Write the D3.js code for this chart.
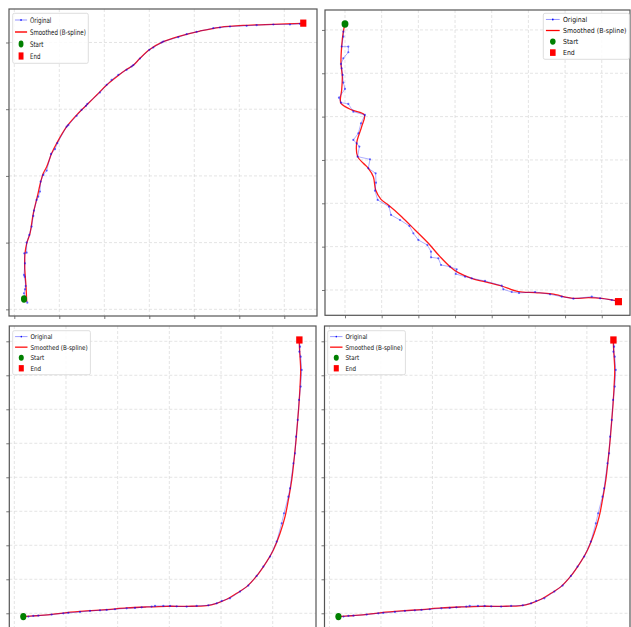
<!DOCTYPE html>
<html lang="en">
<head>
<meta charset="UTF-8">
<title>Trajectory smoothing</title>
<script src="https://cdn.jsdelivr.net/npm/d3@7"></script>
<style>
  body { margin: 0; background: #fff; }
  .grid line { stroke: #d2d2d2; stroke-width: 0.6; stroke-dasharray: 3,2; }
  .frame { fill: none; stroke: #555; stroke-width: 1.2; }
  .tick line { stroke: #555; stroke-width: 0.8; }
  .legend text { font-family: "DejaVu Sans", sans-serif; font-size: 7.6px; fill: #111; }
</style>
</head>
<body>
<svg id="chart" width="631" height="627"></svg>
<script>
// ---- track 1 (top left) ----
const track1Original = [
  [2.89,1.0],[2.37,1.9],[2.15,2.4],[2.37,3.0],[2.52,3.5],[2.3,4.9],[2.15,5.15],[2.37,6.9],
  [2.22,8.4],[2.74,8.5],[2.74,10.0],[3.33,11.15],[3.85,12.4],[4.22,14.0],[4.37,14.8],[4.96,16.4],
  [5.33,16.9],[5.7,17.65],[5.85,19.15],[6.44,20.15],[7.19,20.8],[8.15,23.3],[9.04,24.0],[9.56,24.9],
  [11.63,27.4],[12.0,27.6],[13.85,29.0],[14.96,29.9],[15.93,30.5],[16.22,30.8],[19.04,32.5],[20.52,33.65],
  [21.63,34.4],[23.11,35.15],[24.96,35.9],[26.07,36.4],[26.44,36.6],[27.93,37.6],[30.0,38.9],[30.89,39.25],
  [32.74,40.0],[33.11,40.15],[36.44,40.8],[38.3,41.25],[40.52,41.6],[44.22,42.15],[45.7,42.25],[47.93,42.4],
  [51.63,42.5],[53.85,42.6],[57.56,42.7],[61.26,42.7],[63.48,42.8],[64.22,42.9]
];
const track1Smoothed = [
  [2.76,1.14],[2.6,3.39],[2.31,6.39],[2.38,8.4],[2.76,9.9],[3.49,11.39],[4.22,14.39],[5.11,16.88],
  [5.87,19.13],[6.44,20.39],[7.2,21.38],[8.31,23.39],[9.42,24.89],[11.64,27.38],[14.22,29.39],[16.09,30.63],
  [18.31,32.13],[20.53,33.63],[22.76,34.87],[24.98,35.98],[26.44,36.58],[27.93,37.63],[30.16,38.98],[33.11,40.12],
  [36.82,40.97],[41.27,41.72],[45.71,42.28],[51.64,42.58],[57.56,42.73],[64.22,42.88]
];

// ---- track 2 (top right) ----
const track2Original = [
  [-0.45,59.62],[-0.45,58.46],[-0.91,56.15],[0.91,56.15],[0.91,54.85],[-0.45,53.46],[-1.09,52.15],[-0.91,51.15],
  [-0.64,49.62],[-0.45,47.85],[0,46.38],[-1.64,44.38],[-1.09,43.23],[0.91,42.92],[2.27,41.15],[5.45,40.38],
  [4.36,38.46],[3.64,36.15],[2.27,34.62],[3.18,33.85],[3.91,33.08],[3.45,30.77],[6.82,30.15],[6.36,28.08],
  [8.36,26.92],[8.45,24.77],[8.18,22.92],[8.91,20.77],[12.0,19.23],[12.55,17.31],[15.0,16.15],[17.55,14.77],
  [18.64,13.08],[20.0,11.54],[22.45,10.38],[23.45,8.85],[23.45,7.54],[25.45,7.31],[26.18,5.77],[28.64,5.38],
  [30.45,4.77],[30.18,3.69],[32.73,3.08],[34.55,2.69],[38.18,2.08],[42.73,1.0],[43.18,0.15],[45.45,-0.46],
  [47.45,-0.69],[51.82,-0.46],[55.91,-1.0],[59.09,-1.54],[62.27,-2.0],[67.27,-1.54],[69.55,-1.92],[72.73,-2.31],
  [74.55,-2.69]
];
const track2Smoothed = [
  [0,61.38],[-0.45,59.6],[-0.91,56.15],[-1.09,52.31],[-0.73,49.23],[-0.91,46.15],[-1.27,43.85],[-1.09,43.08],
  [1.82,41.54],[5.27,40.38],[4.55,37.69],[3.18,33.85],[3.45,30.77],[5.0,29.23],[6.36,28.08],[7.73,26.15],
  [8.36,23.08],[9.82,20.92],[11.82,19.62],[15.45,16.92],[19.09,13.85],[22.73,10.77],[25.91,7.69],[28.64,5.38],
  [30.91,4.0],[34.55,2.69],[39.09,1.69],[42.73,0.92],[47.27,-0.38],[51.82,-0.62],[56.36,-0.92],[62.27,-1.92],
  [66.36,-1.77],[70.0,-1.92],[74.55,-2.54]
];

// ---- track 3 (bottom row, both panels) ----
const track3Original = [
  [2.71,-0.98],[3.68,-0.78],[4.65,-0.69],[7.23,-0.39],[9.48,0.0],[10.45,0.1],[12.71,0.39],[14.65,0.69],
  [16.58,0.88],[17.87,0.98],[19.48,1.18],[21.74,1.47],[23.35,1.57],[24.65,1.76],[26.58,1.96],[27.23,2.16],
  [28.84,2.16],[30.13,2.16],[31.42,2.06],[33.35,1.96],[35.29,2.16],[37.55,2.35],[39.16,2.94],[40.13,3.63],
  [41.74,4.41],[43.68,6.37],[45.29,8.14],[46.9,10.98],[48.19,13.73],[49.48,16.67],[50.77,21.08],[51.74,26.47],
  [52.19,29.41],[53.03,34.31],[53.35,36.76],[54.0,44.12],[54.32,47.06],[54.52,51.96],[54.84,56.86],[55.1,62.75],
  [55.42,66.67],[55.61,71.57],[55.42,75.49],[55.16,76.96],[55.29,78.43],[55.16,80.2]
];
const track3Smoothed = [
  [1.74,-0.98],[3.68,-0.78],[6.9,-0.39],[10.13,0.2],[14.0,0.69],[17.87,1.08],[21.74,1.57],[25.61,1.86],
  [29.48,2.06],[33.35,2.06],[37.23,2.25],[39.16,2.94],[41.1,4.12],[43.03,5.88],[44.97,7.84],[46.9,10.98],
  [48.84,15.2],[50.13,18.63],[51.42,23.53],[52.39,28.43],[53.03,33.33],[53.68,39.22],[54.13,45.1],[54.52,50.98],
  [54.84,56.86],[55.1,61.76],[55.29,66.67],[55.42,71.57],[55.29,75.49],[55.16,78.92],[55.16,80.39]
];

const startPoints = [[2.15,1.55],[0,61.38],[1.74,-0.98]];
const endPoints = [[64.22,42.9],[74.55,-2.69],[55.16,80.39]];

const xTicks1 = [0,10,20,30,40,50,60], yTicks1 = [0,10,20,30,40];
const xTicks2 = [0,10,20,30,40,50,60,70], yTicks2 = [0,10,20,30,40,50,60];
const xTicks3 = [0,10,20,30,40,50], yTicks3 = [0,10,20,30,40,50,60,70,80];

const legendLabels = ['Original', 'Smoothed (B-spline)', 'Start', 'End'];

const tracks = [
  {orig: track1Original, smooth: track1Smoothed},
  {orig: track2Original, smooth: track2Smoothed},
  {orig: track3Original, smooth: track3Smoothed}
];

// layout for each panel (pixel box, data extent, legend box)
const panels = [
  {t: 0, box: [9, 9, 317, 316], xDom: [-1.18, 67.27], yDom: [-1.0, 45.02], xt: xTicks1, yt: yTicks1,
   sx: 0.72, leg: {x: 12.7, y: 13.3, sy: 1.0}},
  {t: 1, box: [325, 10, 630, 315.3], xDom: [-5.45, 77.7], yDom: [-5.84, 64.6], xt: xTicks2, yt: yTicks2,
   sx: 0.82, leg: {x: 543.3, y: 13.3, sy: 0.92}},
  {t: 2, box: [9.3, 326, 316, 633], xDom: [-0.97, 58.38], yDom: [-5.8, 84.5], xt: xTicks3, yt: yTicks3,
   sx: 0.74, leg: {x: 12.7, y: 330.7, sy: 0.88}},
  {t: 2, box: [324.5, 326, 630, 633], xDom: [-0.97, 58.38], yDom: [-5.8, 84.5], xt: xTicks3, yt: yTicks3,
   sx: 0.74, leg: {x: 327.7, y: 330.7, sy: 0.88}}
];

const svg = d3.select('#chart');

panels.forEach(p => {
  const [x0, y0, x1, y1] = p.box;
  const x = d3.scaleLinear().domain(p.xDom).range([x0, x1]);
  const y = d3.scaleLinear().domain(p.yDom).range([y1, y0]);
  const tr = tracks[p.t];

  const g = svg.append('g');

  // grid
  const grid = g.append('g').attr('class', 'grid');
  grid.selectAll('.gx').data(p.xt).enter().append('line')
    .attr('x1', d => x(d)).attr('x2', d => x(d)).attr('y1', y0).attr('y2', y1);
  grid.selectAll('.gy').data(p.yt).enter().append('line')
    .attr('y1', d => y(d)).attr('y2', d => y(d)).attr('x1', x0).attr('x2', x1);

  // ticks only, no labels
  g.append('g').attr('transform', `translate(${x0},0)`)
    .call(d3.axisLeft(y).tickValues(p.yt).tickSize(3).tickFormat(''))
    .call(a => a.select('.domain').remove());
  g.append('g').attr('transform', `translate(0,${y1})`)
    .call(d3.axisBottom(x).tickValues(p.xt).tickSize(3).tickFormat(''))
    .call(a => a.select('.domain').remove());

  const line = d3.line().x(d => x(d[0])).y(d => y(d[1]));

  // smoothed track
  g.append('path').datum(tr.smooth)
    .attr('d', line.curve(d3.curveCatmullRom.alpha(0.5)))
    .attr('fill', 'none').attr('stroke', 'red').attr('stroke-opacity', 0.9).attr('stroke-width', 1.3);

  // original track
  g.append('path').datum(tr.orig)
    .attr('d', d3.line().x(d => x(d[0])).y(d => y(d[1])))
    .attr('fill', 'none').attr('stroke', 'blue').attr('stroke-opacity', 0.45).attr('stroke-width', 0.7);
  g.selectAll('.dot').data(tr.orig).enter().append('circle')
    .attr('cx', d => x(d[0])).attr('cy', d => y(d[1])).attr('r', 1.1)
    .attr('fill', 'blue').attr('fill-opacity', 0.55);

  // start / end
  const s = startPoints[p.t], e = endPoints[p.t];
  g.append('ellipse').attr('cx', x(s[0])).attr('cy', y(s[1]))
    .attr('rx', 4.2 * p.sx).attr('ry', 3.7).attr('fill', 'green');
  g.append('rect').attr('x', x(e[0]) - 4.3 * p.sx).attr('y', y(e[1]) - 3.6)
    .attr('width', 8.6 * p.sx).attr('height', 7.2).attr('fill', 'red');

  // frame
  g.append('rect').attr('class', 'frame')
    .attr('x', x0).attr('y', y0).attr('width', x1 - x0).attr('height', y1 - y0);

  // legend
  const lg = g.append('g').attr('class', 'legend')
    .attr('transform', `translate(${p.leg.x},${p.leg.y}) scale(${p.sx},${p.leg.sy})`);
  lg.append('rect').attr('width', 105).attr('height', 50).attr('rx', 2)
    .attr('fill', '#fff').attr('fill-opacity', 0.85).attr('stroke', '#d8d8d8').attr('stroke-width', 1);
  const ly = i => 6.7 + i * 12;
  lg.append('line').attr('x1', 3.2).attr('x2', 20).attr('y1', ly(0)).attr('y2', ly(0))
    .attr('stroke', 'blue').attr('stroke-opacity', 0.55).attr('stroke-width', 0.9);
  lg.append('circle').attr('cx', 11.6).attr('cy', ly(0)).attr('r', 1).attr('fill', 'blue');
  lg.append('line').attr('x1', 3.2).attr('x2', 20).attr('y1', ly(1)).attr('y2', ly(1))
    .attr('stroke', 'red').attr('stroke-width', 1.4);
  lg.append('circle').attr('cx', 11.6).attr('cy', ly(2)).attr('r', 3.4).attr('fill', 'green');
  lg.append('rect').attr('x', 8.2).attr('y', ly(3) - 3.6).attr('width', 6.8).attr('height', 7.2).attr('fill', 'red');
  lg.selectAll('text').data(legendLabels).enter().append('text')
    .attr('x', 24).attr('y', (d, i) => ly(i) + 2.7).text(d => d);
});
</script>
</body>
</html>
